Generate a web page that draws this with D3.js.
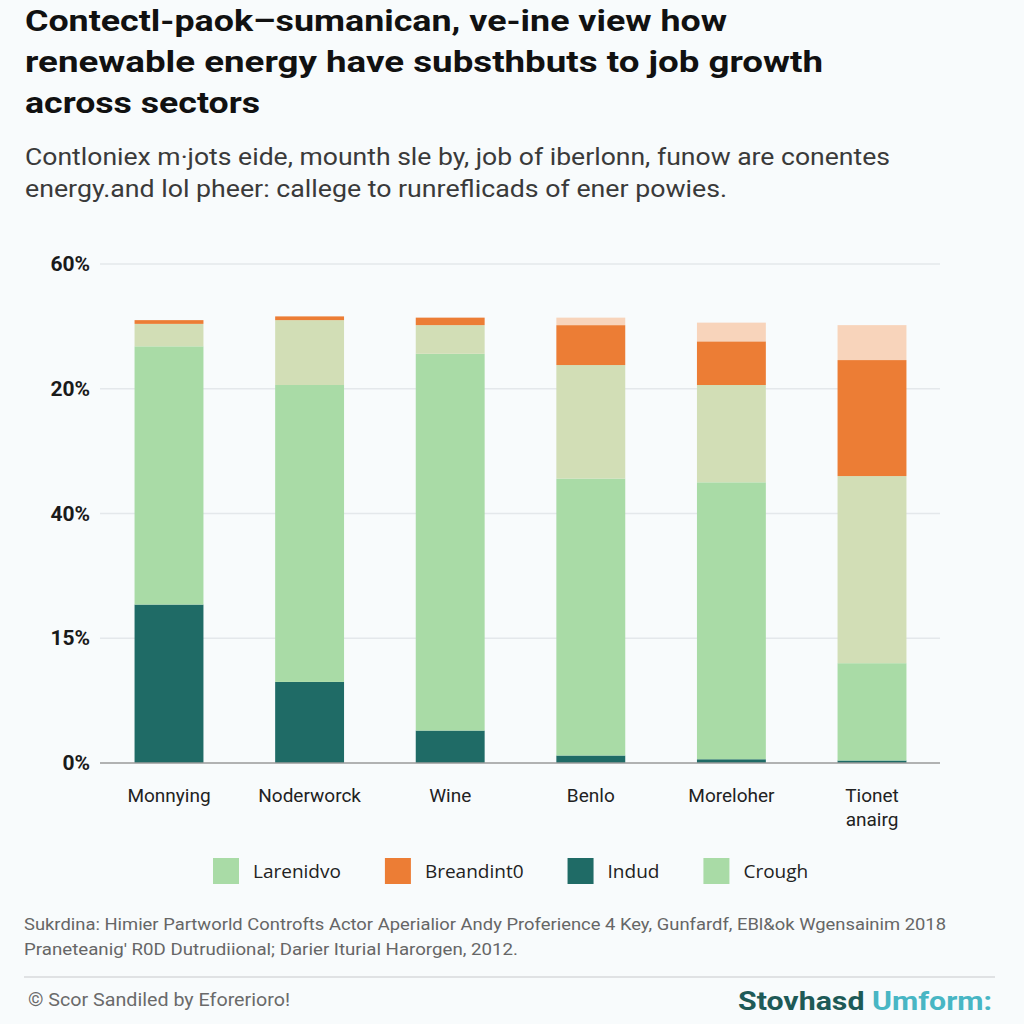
<!DOCTYPE html>
<html>
<head>
<meta charset="utf-8">
<script src="https://cdn.jsdelivr.net/npm/d3@7"></script>
<style>
  html, body { margin: 0; padding: 0; background: #f8fbfc; }
  svg { display: block; }
</style>
</head>
<body>
<svg id="chart" width="1024" height="1024"></svg>
<script>
// ---------- data ----------
const titleLines = [
  "Contectl-paok\u2013sumanican, ve-ine view how",
  "renewable energy have substhbuts to job growth",
  "across sectors"
];
const subtitleLines = [
  "Contloniex m\u00b7jots eide, mounth sle by, job of iberlonn, funow are conentes",
  "energy.and lol pheer: callege to runreflicads of ener powies."
];
const categories = ["Monnying", "Noderworck", "Wine", "Benlo", "Moreloher", "Tionet\nanairg"];
// stacked segments, bottom to top, in axis-step units (one step per gridline)
const indud      = [1.27, 0.65, 0.26, 0.06, 0.03, 0.02];
const larenidvo  = [2.07, 2.38, 3.02, 2.22, 2.22, 0.78];
const crough     = [0.18, 0.52, 0.23, 0.91, 0.78, 1.50];
const breandinto = [0.03, 0.03, 0.06, 0.32, 0.35, 0.93];
const peach      = [0.00, 0.00, 0.00, 0.06, 0.15, 0.28];
const yTickValues = [0, 1, 2, 3, 4];
const yTickLabels = ["0%", "15%", "40%", "20%", "60%"];
const legendNames = ["Larenidvo", "Breandint0", "Indud", "Crough"];
const sourceLines = [
  "Sukrdina: Himier Partworld Controfts Actor Aperialior Andy Proferience 4 Key, Gunfardf, EBl&ok Wgensainim 2018",
  "Praneteanig' R0D Dutrudiional; Darier Iturial Harorgen, 2012."
];
const footerLeft = "\u00a9 Scor Sandiled by Eforerioro!";
const footerBrand = ["Stovhasd", "Umform:"];

// ---------- styles ----------
const colors = {
  indud: "#1f6b66",
  larenidvo: "#a9dba6",
  crough: "#d2deb6",
  breandinto: "#ec7d35",
  peach: "#f8d4bb"
};
const legendColors = ["#a9dba6", "#ec7d35", "#1f6b66", "#a9dba6"];

const svg = d3.select("#chart");
svg.append("rect").attr("width", 1024).attr("height", 1024).attr("fill", "#f8fbfc");

// title
const titleWidths = [702, 798, 235];
svg.append("g").selectAll("text").data(titleLines).join("text")
  .attr("x", 25).attr("y", (d, i) => 31 + i * 41)
  .attr("font-family", "Roboto, 'Liberation Sans', sans-serif")
  .attr("font-weight", 700).attr("font-size", 29).attr("fill", "#111")
  .attr("textLength", (d, i) => titleWidths[i]).attr("lengthAdjust", "spacingAndGlyphs")
  .text(d => d);

// subtitle
const subWidths = [865, 702];
svg.append("g").selectAll("text").data(subtitleLines).join("text")
  .attr("x", 25).attr("y", (d, i) => 165 + i * 32)
  .attr("font-family", "Roboto, 'Liberation Sans', sans-serif")
  .attr("font-size", 23).attr("fill", "#3a3a3a")
  .attr("textLength", (d, i) => subWidths[i]).attr("lengthAdjust", "spacingAndGlyphs")
  .text(d => d);

// scales
const x = d3.scaleBand().domain(categories).range([98, 943]).paddingInner(0.51).paddingOuter(0.26);
const y = d3.scaleLinear().domain([0, 4]).range([763, 264]);

// grid
svg.append("g").selectAll("line").data(yTickValues.filter(v => v > 0)).join("line")
  .attr("x1", 100).attr("x2", 940)
  .attr("y1", d => y(d)).attr("y2", d => y(d))
  .attr("stroke", "#e4e8eb").attr("stroke-width", 1.5);

// stacked bars
const keys = ["indud", "larenidvo", "crough", "breandinto", "peach"];
const table = categories.map((c, i) => ({
  cat: c, indud: indud[i], larenidvo: larenidvo[i], crough: crough[i],
  breandinto: breandinto[i], peach: peach[i]
}));
const stacked = d3.stack().keys(keys)(table);
svg.append("g").selectAll("g").data(stacked).join("g")
  .attr("fill", d => colors[d.key])
  .selectAll("rect").data(d => d).join("rect")
  .attr("x", d => x(d.data.cat))
  .attr("width", x.bandwidth())
  .attr("y", d => y(d[1]))
  .attr("height", d => Math.max(0, y(d[0]) - y(d[1])));

// y axis
const yAxis = d3.axisLeft(y).tickValues(yTickValues)
  .tickFormat((d, i) => yTickLabels[i]).tickSize(0).tickPadding(0);
const yg = svg.append("g").attr("transform", "translate(90,0)").call(yAxis);
yg.select(".domain").remove();
yg.selectAll("text")
  .attr("font-family", "Roboto, 'Liberation Sans', sans-serif")
  .attr("font-size", 21).attr("font-weight", 700).attr("fill", "#1a1a1a");

// x axis
const xAxis = d3.axisBottom(x).tickSize(0).tickPadding(0).tickFormat("");
const xg = svg.append("g").attr("transform", "translate(0,763)").call(xAxis);
xg.select(".domain").attr("d", "M100,0H940").attr("stroke", "#9a9a9a").attr("stroke-width", 1.5);
xg.selectAll(".tick").each(function(d) {
  const lines = d.split("\n");
  lines.forEach((ln, j) => {
    d3.select(this).append("text")
      .attr("text-anchor", "middle")
      .attr("x", 0).attr("y", 39 + j * 24)
      .attr("font-family", "Roboto, 'Liberation Sans', sans-serif")
      .attr("font-size", 19).attr("fill", "#222")
      .text(ln);
  });
});

// legend
const lg = svg.append("g");
let lx = 213;
legendNames.forEach((name, i) => {
  lg.append("rect").attr("x", lx).attr("y", 858).attr("width", 26).attr("height", 26)
    .attr("fill", legendColors[i]);
  const t = lg.append("text").attr("x", lx + 40).attr("y", 878)
    .attr("font-family", "'Open Sans', 'Liberation Sans', sans-serif")
    .attr("font-size", 19).attr("fill", "#222").text(name);
  lx = lx + 40 + t.node().getComputedTextLength() + 44;
});

// source
const srcWidths = [922, 494];
svg.append("g").selectAll("text").data(sourceLines).join("text")
  .attr("x", 24).attr("y", (d, i) => 930 + i * 25)
  .attr("font-family", "Roboto, 'Liberation Sans', sans-serif")
  .attr("font-size", 17).attr("fill", "#666")
  .attr("textLength", (d, i) => srcWidths[i]).attr("lengthAdjust", "spacingAndGlyphs")
  .text(d => d);

// rule
svg.append("line").attr("x1", 24).attr("x2", 995).attr("y1", 977).attr("y2", 977)
  .attr("stroke", "#d8dadc").attr("stroke-width", 1.5);

// footer
svg.append("text").attr("x", 28).attr("y", 1006)
  .attr("font-family", "Roboto, 'Liberation Sans', sans-serif")
  .attr("font-size", 18).attr("fill", "#6a6a6a")
  .attr("textLength", 262).attr("lengthAdjust", "spacingAndGlyphs")
  .text(footerLeft);
const brand = svg.append("text").attr("x", 738).attr("y", 1010)
  .attr("font-family", "Roboto, 'Liberation Sans', sans-serif")
  .attr("font-size", 26).attr("font-weight", 700)
  .attr("textLength", 254).attr("lengthAdjust", "spacingAndGlyphs");
brand.append("tspan").attr("fill", "#1e5a57").text(footerBrand[0] + " ");
brand.append("tspan").attr("fill", "#48b6c4").text(footerBrand[1]);
</script>
</body>
</html>
